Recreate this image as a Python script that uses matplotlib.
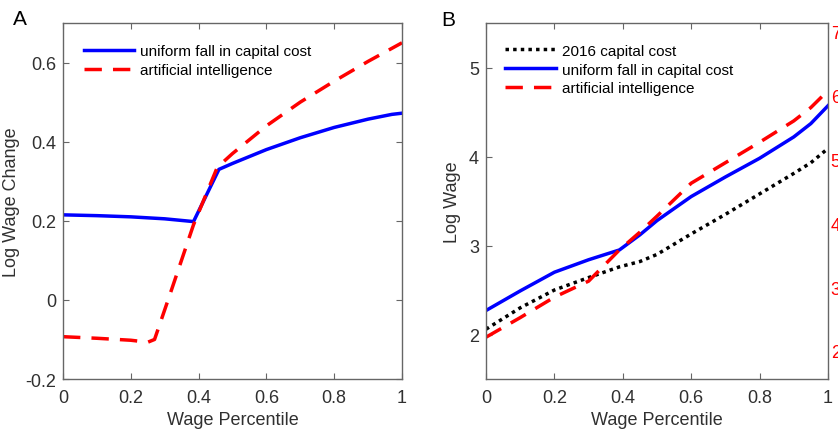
import matplotlib
matplotlib.use("Agg")
import matplotlib.pyplot as plt

plt.rcParams.update({
    "font.family": ["Liberation Sans", "DejaVu Sans"],
    "font.size": 13,
    "axes.edgecolor": "#666666",
    "axes.linewidth": 1.0,
    "xtick.color": "#666666",
    "ytick.color": "#666666",
    "xtick.labelcolor": "#303030",
    "ytick.labelcolor": "#303030",
    "xtick.direction": "in",
    "ytick.direction": "in",
    "xtick.top": True,
    "ytick.right": True,
    "xtick.major.size": 4,
    "ytick.major.size": 4,
    "xtick.major.pad": 7,
    "ytick.major.pad": 5,
})

C_BLUE = "#0000ff"
C_RED = "#ff0000"
C_TEXT = "#303030"
LW = 2.5
DASH = (0, (5, 3.2))
DOT = (0, (1, 1.2))

# panel A: log wage change by wage percentile
a_pct_uniform = [0.0, 0.1, 0.2, 0.3, 0.385, 0.46, 0.5, 0.6, 0.7, 0.8, 0.9, 0.97, 1.0]
a_uniform = [0.215, 0.213, 0.21, 0.205, 0.198, 0.33, 0.345, 0.38, 0.41, 0.436, 0.457, 0.469, 0.472]
a_pct_ai = [0.0, 0.1, 0.2, 0.25, 0.27, 0.31, 0.385, 0.455, 0.5, 0.6, 0.7, 0.8, 0.9, 1.0]
a_ai = [-0.093, -0.097, -0.102, -0.107, -0.1, 0.0, 0.19, 0.335, 0.37, 0.44, 0.5, 0.553, 0.603, 0.65]

# panel B: log wage levels
b_pct = [0.0, 0.1, 0.2, 0.3, 0.39, 0.45, 0.5, 0.6, 0.7, 0.8, 0.9, 0.95, 1.0]
b_2016 = [2.06, 2.3, 2.5, 2.64, 2.76, 2.82, 2.9, 3.13, 3.35, 3.58, 3.81, 3.93, 4.09]
b_uniform = [2.27, 2.49, 2.70, 2.84, 2.95, 3.12, 3.28, 3.55, 3.77, 3.98, 4.22, 4.37, 4.57]
b_ai = [1.97, 2.19, 2.42, 2.6, 2.95, 3.15, 3.33, 3.7, 3.93, 4.16, 4.4, 4.55, 4.74]
right_ticks = [2, 3, 4, 5, 6, 7]

x_ticks = [0, 0.2, 0.4, 0.6, 0.8, 1]
x_ticklabels = ["0", "0.2", "0.4", "0.6", "0.8", "1"]

fig = plt.figure(figsize=(8.38, 4.35), dpi=100)
ax1 = fig.add_axes([0.0752, 0.1264, 0.4045, 0.8184])
ax2 = fig.add_axes([0.58, 0.1264, 0.408, 0.8184])

leg_kw = dict(loc="upper left", frameon=False, fontsize=11, handlelength=3.3,
              handletextpad=0.4, borderaxespad=0.3, labelspacing=0.32)

# ---- A ----
ax1.plot(a_pct_uniform, a_uniform, color=C_BLUE, lw=LW, label="uniform fall in capital cost",
         solid_joinstyle="miter")
ax1.plot(a_pct_ai, a_ai, color=C_RED, lw=LW, linestyle=DASH, label="artificial intelligence")
ax1.set_xlim(0, 1)
ax1.set_ylim(-0.2, 0.7)
ax1.set_xticks(x_ticks)
ax1.set_xticklabels(x_ticklabels)
ax1.set_yticks([-0.2, 0, 0.2, 0.4, 0.6])
ax1.set_yticklabels(["-0.2", "0", "0.2", "0.4", "0.6"])
ax1.set_xlabel("Wage Percentile", color=C_TEXT, labelpad=4)
ax1.set_ylabel("Log Wage Change", color=C_TEXT, labelpad=4)
ax1.legend(bbox_to_anchor=(0.03, 0.97), **leg_kw)
fig.text(0.016, 0.978, "A", fontsize=15, va="top", ha="left")

# ---- B ----
ax2.plot(b_pct, b_2016, color="black", lw=LW, linestyle=DOT, label="2016 capital cost")
ax2.plot(b_pct, b_uniform, color=C_BLUE, lw=LW, label="uniform fall in capital cost")
ax2.plot(b_pct, b_ai, color=C_RED, lw=LW, linestyle=DASH, label="artificial intelligence")
ax2.set_xlim(0, 1)
ax2.set_ylim(1.5, 5.5)
ax2.set_xticks(x_ticks)
ax2.set_xticklabels(x_ticklabels)
ax2.set_yticks([2, 3, 4, 5])
ax2.set_xlabel("Wage Percentile", color=C_TEXT, labelpad=4)
ax2.set_ylabel("Log Wage", color=C_TEXT, labelpad=6)
ax2.legend(bbox_to_anchor=(0.025, 0.972), **leg_kw)
fig.text(0.526, 0.975, "B", fontsize=15, va="top", ha="left")

# red right-hand scale
ax3 = ax2.twinx()
ax3.set_ylim(1.56, 7.14)
ax3.set_yticks(right_ticks)
ax3.tick_params(axis="y", length=0, pad=2, labelcolor=C_RED, right=True, left=False)
for s in ax3.spines.values():
    s.set_visible(False)

fig.savefig("out.png", dpi=100)
